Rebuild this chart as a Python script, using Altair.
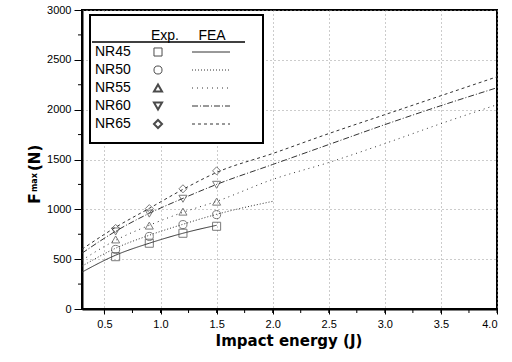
import altair as alt
import pandas as pd

series = ["NR45", "NR50", "NR55", "NR60", "NR65"]
shapes = ["square", "circle", "triangle-up", "triangle-down", "diamond"]
dashes = [[1, 0], [1, 2], [1, 4], [6, 2, 1, 2], [3, 3]]

exp_x = [0.6, 0.9, 1.2, 1.5]
exp_y = {
    "NR45": [525, 660, 760, 830],
    "NR50": [598, 728, 847, 947],
    "NR55": [698, 837, 977, 1077],
    "NR60": [778, 957, 1106, 1246],
    "NR65": [808, 1007, 1206, 1386],
}

fea_x = {
    "NR45": [0.3, 0.6, 0.9, 1.2, 1.5],
    "NR50": [0.3, 0.6, 0.9, 1.2, 1.5, 2.0],
    "NR55": [0.3, 0.6, 0.9, 1.2, 1.5, 2.0, 2.5, 3.0, 3.5, 4.0],
    "NR60": [0.3, 0.6, 0.9, 1.2, 1.5, 2.0, 2.5, 3.0, 3.5, 4.0],
    "NR65": [0.3, 0.6, 0.9, 1.2, 1.5, 2.0, 2.5, 3.0, 3.5, 4.0],
}
fea_y = {
    "NR45": [370, 540, 660, 760, 840],
    "NR50": [430, 610, 740, 850, 950, 1080],
    "NR55": [490, 690, 840, 970, 1080, 1300, 1470, 1660, 1860, 2050],
    "NR60": [560, 780, 960, 1110, 1250, 1450, 1650, 1850, 2040, 2220],
    "NR65": [600, 820, 1010, 1200, 1370, 1560, 1760, 1950, 2140, 2330],
}

x_major = [0.5, 1.0, 1.5, 2.0, 2.5, 3.0, 3.5, 4.0]
x_minor = [0.5, 0.75, 1.0, 1.25, 1.5, 1.75, 2.0, 2.25, 2.5, 2.75, 3.0, 3.25, 3.5, 3.75, 4.0]
y_major = [0, 500, 1000, 1500, 2000, 2500, 3000]
y_minor = [250, 750, 1250, 1750, 2250, 2750]

FONT = "Liberation Sans"
TFONT = "DejaVu Sans"
W, H = 415, 299
LEFT, TOP = 82, 10
INK = "#333333"

xs = alt.Scale(domain=[0.3, 4.0], nice=False, zero=False)
ys = alt.Scale(domain=[0, 3000], nice=False)

layers = []

# minor ticks
layers.append(
    alt.Chart(pd.DataFrame({"x": x_minor})).mark_rule(color="black", strokeWidth=1)
    .encode(x=alt.X("x:Q", scale=xs), y=alt.value(H), y2=alt.value(H + 4))
)
layers.append(
    alt.Chart(pd.DataFrame({"y": y_minor})).mark_rule(color="black", strokeWidth=1)
    .encode(y=alt.Y("y:Q", scale=ys), x=alt.value(-4), x2=alt.value(0))
)

# base with axes
base = alt.Chart(pd.DataFrame({"x": [0.3], "y": [0]})).mark_point(opacity=0).encode(
    x=alt.X("x:Q", scale=xs, title=None,
            axis=alt.Axis(values=x_major, format=".1f", grid=True, gridColor="#999999",
                          gridDash=[1, 3], gridWidth=1, tickSize=5, tickColor="black",
                          domainColor="black", domainWidth=2, labelFont=FONT,
                          labelFontSize=11, labelColor="black", labelPadding=4)),
    y=alt.Y("y:Q", scale=ys, title=None,
            axis=alt.Axis(values=y_major, format="d", grid=True, gridColor="#999999",
                          gridDash=[1, 3], gridWidth=1, tickSize=8, tickColor="black",
                          domainColor="black", domainWidth=2, labelFont=FONT,
                          labelFontSize=11, labelColor="black", labelPadding=3)),
)
layers.append(base)

for i, s in enumerate(series):
    df = pd.DataFrame({"x": fea_x[s], "y": fea_y[s]})
    layers.append(
        alt.Chart(df).mark_line(color=INK, strokeWidth=1, strokeDash=dashes[i], interpolate="monotone")
        .encode(x=alt.X("x:Q", scale=xs), y=alt.Y("y:Q", scale=ys))
    )
    de = pd.DataFrame({"x": exp_x, "y": exp_y[s]})
    layers.append(
        alt.Chart(de).mark_point(shape=shapes[i], size=65, color="#444444", strokeWidth=1, filled=False)
        .encode(x=alt.X("x:Q", scale=xs), y=alt.Y("y:Q", scale=ys))
    )

# legend
one = pd.DataFrame({"a": [0]})
layers.append(
    alt.Chart(one).mark_rect(fill="white", stroke="black", strokeWidth=2)
    .encode(x=alt.value(8), x2=alt.value(181), y=alt.value(5), y2=alt.value(133))
)
layers.append(
    alt.Chart(one).mark_rule(color="black", strokeWidth=1.5)
    .encode(x=alt.value(10), x2=alt.value(163), y=alt.value(32))
)
for txt, xx in [("Exp.", 83), ("FEA", 130)]:
    layers.append(
        alt.Chart(one).mark_text(text=txt, font=FONT, fontSize=14, align="center",
                                 baseline="alphabetic", color="black")
        .encode(x=alt.value(xx), y=alt.value(30))
    )
for i, s in enumerate(series):
    yy = 42 + 18 * i
    layers.append(
        alt.Chart(one).mark_text(text=s, font=FONT, fontSize=14, align="left",
                                 baseline="middle", color="black")
        .encode(x=alt.value(13), y=alt.value(yy))
    )
    layers.append(
        alt.Chart(one).mark_point(shape=shapes[i], size=65, color="black",
                                  strokeWidth=1 if i < 2 else 2, filled=False)
        .encode(x=alt.value(76), y=alt.value(yy))
    )
    layers.append(
        alt.Chart(one).mark_rule(color=INK, strokeWidth=1, strokeDash=dashes[i])
        .encode(x=alt.value(110), x2=alt.value(148), y=alt.value(yy))
    )

# axis titles
layers.append(
    alt.Chart(one).mark_text(text="Impact energy (J)", font=TFONT, fontSize=15, fontWeight="bold",
                             align="center", baseline="alphabetic", color="black")
    .encode(x=alt.value(207), y=alt.value(336))
)
layers.append(
    alt.Chart(one).mark_text(text="F", font=TFONT, fontSize=16, fontWeight="bold", angle=270,
                             align="left", baseline="alphabetic", color="black")
    .encode(x=alt.value(40 - LEFT), y=alt.value(204 - TOP))
)
layers.append(
    alt.Chart(one).mark_text(text="max", font=TFONT, fontSize=8, fontWeight="bold", angle=270,
                             align="left", baseline="alphabetic", color="black")
    .encode(x=alt.value(37 - LEFT), y=alt.value(192 - TOP))
)
layers.append(
    alt.Chart(one).mark_text(text="(N)", font=TFONT, fontSize=15, fontWeight="bold", angle=270,
                             align="left", baseline="alphabetic", color="black")
    .encode(x=alt.value(40 - LEFT), y=alt.value(171 - TOP))
)

chart = alt.layer(*layers).properties(
    width=W, height=H,
    autosize=alt.AutoSizeParams(type="none"),
    padding={"left": LEFT, "top": TOP, "right": 512 - LEFT - W, "bottom": 362 - TOP - H},
    background="white",
).configure_view(stroke="black", strokeWidth=2)

chart.save("out.html", embed_options={"renderer": "svg", "actions": False})
